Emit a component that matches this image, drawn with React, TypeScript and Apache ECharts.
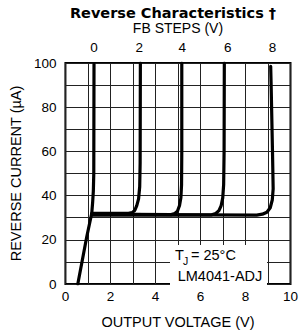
import React, { useEffect, useRef } from "react";
import * as echarts from "echarts";

// Tick labels
const xTickLabels = [0, 2, 4, 6, 8, 10];
const yTickLabels = [0, 20, 40, 60, 80, 100];
const fbStepLabels = ["0", "2", "4", "6", "8"];
const fbStepPositions = [1.27, 3.28, 5.19, 7.21, 9.2];

// Curves: [output voltage (V), reverse current (µA)]
const fb0: number[][] = [
  [0.55, 0], [0.95, 21.5], [1.17, 32], [1.21, 37], [1.24, 42], [1.26, 50], [1.27, 99.5],
];
const fb2: number[][] = [
  [1.17, 32], [2.8, 32], [2.96, 32.3], [3.08, 33.3], [3.17, 35.5], [3.25, 38.5],
  [3.3, 44], [3.32, 55], [3.33, 100],
];
const fb4: number[][] = [
  [1.17, 31.6], [4.7, 31.4], [4.86, 31.9], [4.98, 33], [5.07, 35.5], [5.13, 39],
  [5.16, 45], [5.17, 60], [5.17, 100],
];
const fb6: number[][] = [
  [1.17, 31.2], [6.5, 31.3], [6.68, 31.9], [6.82, 33.2], [6.92, 35.5], [6.99, 39],
  [7.03, 45], [7.05, 60], [7.06, 100],
];
const fb8: number[][] = [
  [1.17, 31.5], [8.5, 31.2], [8.75, 31.6], [8.95, 32.5], [9.1, 34.5], [9.19, 38],
  [9.23, 43], [9.2, 60], [9.14, 90], [9.12, 98.5],
];
const curves = [fb0, fb2, fb4, fb6, fb8];
const curveNames = fbStepLabels.map((s) => "FB " + s + " V");

const FONT = "'Liberation Sans', Arial, Helvetica, sans-serif";

export default function App() {
  const ref = useRef<HTMLDivElement>(null);
  useEffect(() => {
    const chart = echarts.init(ref.current!, null, { renderer: "svg" });
    chart.setOption({
      animation: false,
      backgroundColor: "#fff",
      title: {
        text: "Reverse Characteristics \u2020",
        left: 173,
        top: 5,
        padding: 0,
        textAlign: "center",
        textStyle: {
          fontFamily: "'DejaVu Sans', sans-serif",
          fontWeight: "bold",
          fontSize: 14.5,
          color: "#000",
        },
      },
      grid: {
        left: 64,
        top: 63,
        width: 228,
        height: 226,
        show: true,
        borderColor: "#000",
        borderWidth: 2,
        backgroundColor: "transparent",
      },
      xAxis: [
        {
          type: "value",
          min: 0,
          max: 10,
          interval: 1,
          position: "bottom",
          name: "OUTPUT VOLTAGE (V)",
          nameLocation: "middle",
          nameGap: 30,
          nameTextStyle: { fontFamily: FONT, fontSize: 14.5, color: "#000" },
          axisLine: { show: false },
          axisTick: { show: false },
          axisLabel: {
            margin: 5,
            fontFamily: FONT,
            fontSize: 13.5,
            color: "#000",
            formatter: (v: number) => (xTickLabels.includes(v) ? String(v) : ""),
          },
          splitLine: { show: true, lineStyle: { color: "#222", width: 1 } },
        },
        {
          type: "value",
          min: 0,
          max: 10,
          position: "top",
          name: "FB STEPS (V)",
          nameLocation: "middle",
          nameGap: 24.5,
          nameTextStyle: { fontFamily: FONT, fontSize: 14, color: "#000" },
          axisLine: { show: false },
          axisTick: { show: false },
          splitLine: { show: false },
          axisLabel: {
            margin: 9,
            fontFamily: FONT,
            fontSize: 13.5,
            color: "#000",
            customValues: fbStepPositions,
            formatter: (v: number) => {
              const i = fbStepPositions.findIndex((p) => Math.abs(p - v) < 1e-6);
              return i >= 0 ? fbStepLabels[i] : "";
            },
          },
        },
      ],
      yAxis: {
        type: "value",
        min: 0,
        max: 100,
        interval: 10,
        name: "REVERSE CURRENT (\u00b5A)",
        nameLocation: "middle",
        nameGap: 38,
        nameTextStyle: { fontFamily: FONT, fontSize: 14.5, color: "#000" },
        axisLine: { show: false },
        axisTick: { show: false },
        axisLabel: {
          margin: 9,
          fontFamily: FONT,
          fontSize: 13.5,
          color: "#000",
          padding: [6, 0, 0, 0],
          formatter: (v: number) => (yTickLabels.includes(v) ? String(v) : ""),
        },
        splitLine: { show: true, lineStyle: { color: "#222", width: 1 } },
      },
      series: curves.map((d, i) => ({
        name: curveNames[i],
        type: "line",
        xAxisIndex: 0,
        data: d,
        showSymbol: false,
        symbol: "none",
        lineStyle: { color: "#000", width: 3.2, join: "round", cap: "round" },
        z: 3,
      })),
      graphic: [
        {
          type: "rect",
          z: 1,
          shape: { x: 170, y: 245, width: 97, height: 41 },
          style: { fill: "#fff" },
        },
        {
          type: "text",
          z: 2,
          x: 175,
          y: 254.5,
          style: { text: "T", fontFamily: FONT, fontSize: 14.5, fill: "#000", verticalAlign: "middle" },
        },
        {
          type: "text",
          z: 2,
          x: 183,
          y: 261,
          style: { text: "J", fontFamily: FONT, fontSize: 10.5, fill: "#000", verticalAlign: "middle" },
        },
        {
          type: "text",
          z: 2,
          x: 191,
          y: 254.5,
          style: { text: "= 25\u00b0C", fontFamily: FONT, fontSize: 14.5, fill: "#000", verticalAlign: "middle" },
        },
        {
          type: "text",
          z: 2,
          x: 220,
          y: 275.5,
          style: {
            text: "LM4041-ADJ",
            fontFamily: FONT,
            fontSize: 14.5,
            fill: "#000",
            align: "center",
            verticalAlign: "middle",
          },
        },
      ],
    });
    return () => chart.dispose();
  }, []);
  return (
    <div
      ref={ref}
      style={{ position: "fixed", left: 0, top: 0, width: 301, height: 334 }}
    />
  );
}
